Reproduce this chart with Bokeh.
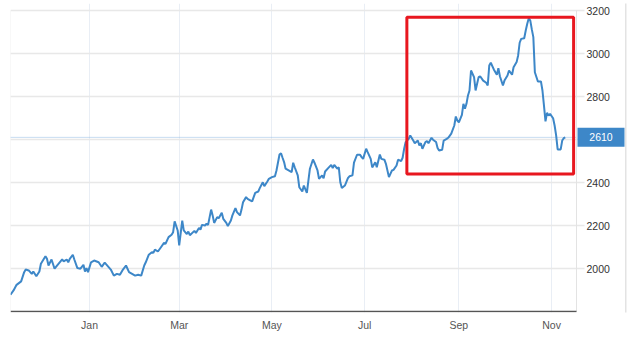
import pandas as pd
from bokeh.plotting import figure
from bokeh.models import (Range1d, BoxAnnotation, Label, MonthsTicker,
                          DatetimeTickFormatter, ColumnDataSource)
from bokeh.core.properties import value
from bokeh.embed import file_html
from bokeh.resources import INLINE

# ---- data ----
start_date = "2020-11-10"
day_offsets = [
    0, 2, 4, 7, 9, 10, 12, 14, 15, 17,
    19, 20, 23, 24, 25, 27, 29, 31, 34, 35,
    37, 38, 39, 41, 42, 44, 46, 48, 49, 50,
    51, 53, 55, 58, 60, 62, 64, 66, 68, 70,
    72, 74, 76, 78, 80, 82, 84, 86, 88, 89,
    91, 93, 94, 95, 97, 99, 101, 102, 104, 106,
    107, 108, 110, 111, 113, 114, 116, 117, 118, 121,
    122, 124, 125, 126, 128, 129, 130, 132, 133, 134,
    136, 137, 139, 140, 142, 143, 145, 146, 148, 149,
    151, 152, 153, 155, 156, 158, 159, 161, 163, 164,
    166, 167, 169, 170, 172, 174, 175, 177, 178, 179,
    180, 181, 183, 185, 186, 187, 189, 190, 192, 193,
    195, 196, 197, 199, 200, 202, 203, 205, 206, 207,
    209, 211, 212, 213, 215, 216, 217, 218, 220, 222,
    223, 225, 226, 228, 230, 231, 232, 234, 235, 237,
    238, 240, 241, 243, 244, 246, 247, 249, 251, 252,
    254, 255, 257, 258, 259, 260, 262, 263, 265, 266,
    268, 269, 270, 271, 273, 274, 275, 277, 278, 280,
    281, 282, 284, 285, 287, 288, 290, 292, 293, 294,
    295, 297, 298, 299, 300, 301, 302, 303, 305, 306,
    308, 309, 311, 313, 314, 315, 316, 318, 320, 321,
    322, 324, 325, 327, 328, 330, 331, 333, 334, 335,
    336, 338, 339, 340, 341, 342, 343, 344, 345, 347,
    349, 350, 351, 352, 353, 354, 355, 357, 358, 359,
    360, 362, 363, 364, 365,
]
prices = [
    1878, 1898, 1924, 1940, 1983, 1995, 1991, 1975, 1986, 1964,
    1986, 2022, 2057, 2045, 2014, 2042, 1999, 2017, 2042, 2033,
    2042, 2029, 2045, 2064, 2042, 2002, 1999, 2017, 1986, 2002,
    1983, 2029, 2037, 2029, 2008, 2027, 2011, 1995, 1967, 1975,
    1971, 1995, 2014, 1983, 1975, 1967, 1971, 1967, 2014, 2029,
    2064, 2076, 2073, 2088, 2079, 2099, 2119, 2115, 2146, 2157,
    2169, 2219, 2177, 2107, 2223, 2177, 2160, 2172, 2155, 2175,
    2165, 2188, 2181, 2203, 2200, 2208, 2203, 2274, 2247, 2212,
    2239, 2234, 2259, 2231, 2212, 2197, 2223, 2247, 2281, 2262,
    2247, 2274, 2308, 2332, 2324, 2316, 2312, 2352, 2358, 2374,
    2401, 2383, 2405, 2417, 2425, 2429, 2456, 2530, 2536, 2515,
    2495, 2464, 2456, 2448, 2492, 2471, 2433, 2378, 2358, 2386,
    2352, 2409, 2464, 2507, 2492, 2456, 2417, 2433, 2420, 2451,
    2467, 2482, 2467, 2482, 2464, 2471, 2401, 2374, 2386, 2420,
    2429, 2433, 2492, 2529, 2529, 2518, 2510, 2557, 2541, 2510,
    2470, 2494, 2471, 2530, 2510, 2506, 2487, 2425, 2456, 2459,
    2479, 2506, 2499, 2515, 2557, 2588, 2603, 2619, 2595, 2583,
    2595, 2572, 2583, 2557, 2588, 2592, 2583, 2608, 2599, 2588,
    2561, 2549, 2552, 2595, 2603, 2608, 2627, 2665, 2707, 2688,
    2680, 2715, 2766, 2743, 2766, 2805, 2828, 2921, 2890, 2828,
    2890, 2894, 2874, 2864, 2851, 2944, 2957, 2926, 2901, 2932,
    2894, 2851, 2874, 2898, 2921, 2901, 2936, 2960, 2991, 3050,
    3068, 3071, 3107, 3138, 3164, 3153, 3112, 3076, 2913, 2870,
    2870, 2828, 2758, 2684, 2724, 2712, 2719, 2699, 2665, 2619,
    2554, 2554, 2595, 2606, 2610,
]
last_price = 2610
y_ticks = [2000, 2200, 2400, 2600, 2800, 3000, 3200]
y_labels = ["2000", "2200", "2400", "", "2800", "3000", "3200"]  # 2600 sits under the 2610 tag
y_min, y_max = 1800, 3200
range_end_days = 372.4
# highlighted region (red box)
hl_left, hl_right = "2021-07-28 19:00", "2021-11-15 12:00"
hl_low, hl_high = 2440, 3169

start = pd.Timestamp(start_date)
dates = start + pd.to_timedelta(day_offsets, unit="D")
source = ColumnDataSource(data=dict(date=dates, price=prices))

# ---- layout (pixels) ----
FONT = "Liberation Sans"
TAG_BLUE = "#3d87c8"
W, H = 638, 357
B_LEFT, B_TOP, B_BOTTOM = 10, 3, 45
PLOT_LEFT, PLOT_RIGHT, PLOT_TOP, PLOT_BOTTOM = 10, 576, 10, 311   # data area
px_per_day = (PLOT_RIGHT - PLOT_LEFT) / range_end_days
units_per_px = (y_max - y_min) / (PLOT_BOTTOM - PLOT_TOP)

def px_date(px):
    return start + pd.Timedelta(days=(px - B_LEFT) / px_per_day)

def py_value(py):
    return y_max - (py - PLOT_TOP) * units_per_px

plot_end = px_date(PLOT_RIGHT)

p = figure(width=W, height=H, x_axis_type="datetime", y_axis_location=None,
           output_backend="svg", toolbar_location=None,
           x_range=Range1d(start, px_date(W)),
           y_range=Range1d(py_value(H - B_BOTTOM), py_value(B_TOP)),
           min_border_left=B_LEFT, min_border_right=0,
           min_border_top=B_TOP, min_border_bottom=B_BOTTOM)
p.outline_line_color = None
p.background_fill_color = "white"
p.border_fill_color = "white"
p.ygrid.visible = False

# x axis (labels only; its line is drawn below as a segment that stops at the data area)
xa = p.xaxis[0]
xa.ticker = MonthsTicker(months=[0, 2, 4, 6, 8, 10])
xa.formatter = DatetimeTickFormatter(months="%b", days="%b", years="%b", hours="%b")
xa.axis_line_color = None
xa.major_tick_line_color = None
xa.minor_tick_line_color = None
xa.major_tick_out = 0
xa.major_tick_in = 0
xa.major_label_text_font = FONT
xa.major_label_text_font_size = "10.5px"
xa.major_label_text_color = "#555555"
xa.major_label_standoff = 6

p.xgrid.grid_line_color = "#e9eef5"
p.xgrid.grid_line_width = 1

# horizontal grid lines with their short outer ticks
n = len(y_ticks)
p.segment(x0=[start] * n, x1=[px_date(PLOT_RIGHT + 8)] * n, y0=y_ticks, y1=y_ticks,
          line_color="#e8e8e8", line_width=1.5)
# right axis line and bottom axis line
p.segment(x0=[plot_end], x1=[plot_end], y0=[y_min], y1=[y_max],
          line_color="#e3e3e3", line_width=1)
p.segment(x0=[start], x1=[plot_end], y0=[y_min], y1=[y_min],
          line_color="#555555", line_width=1.5)

# right-hand tick labels
p.text(x=[px_date(PLOT_RIGHT + 10)] * n, y=y_ticks, text=y_labels,
       text_font=value(FONT), text_font_size=value("10.5px"),
       text_color="#333333", text_align="left", text_baseline="middle")

# dotted last-value line
p.segment(x0=[start], x1=[plot_end], y0=[last_price], y1=[last_price],
          line_color="#8fb8e3", line_width=1, line_dash="1 1")

p.line("date", "price", source=source, line_color="#3d87c8", line_width=2)

# frame lines at the outer edges
for l, r, t, b in [(9, 10, 10, 335), (624.5, 626, 0, 335)]:
    p.add_layout(BoxAnnotation(left=l, right=r, top=t, bottom=b,
                               left_units="canvas", right_units="canvas",
                               top_units="canvas", bottom_units="canvas",
                               fill_color="#e3e3e3", fill_alpha=1, line_color=None))

# red highlight box
p.add_layout(BoxAnnotation(left=pd.Timestamp(hl_left), right=pd.Timestamp(hl_right),
                           bottom=hl_low, top=hl_high, fill_alpha=0,
                           line_color="#e8171f", line_alpha=1, line_width=3))

# last value tag
half_h = 9.5 * units_per_px
p.add_layout(BoxAnnotation(left=px_date(PLOT_RIGHT + 1), right=px_date(PLOT_RIGHT + 48),
                           bottom=last_price - half_h, top=last_price + half_h,
                           fill_color=TAG_BLUE, fill_alpha=1, line_color=None))
p.add_layout(Label(x=px_date(PLOT_RIGHT + 24.5), y=last_price, text=str(last_price),
                   text_align="center", text_baseline="middle", text_color="white",
                   text_font=FONT, text_font_size="10.5px"))

open("out.html", "w").write(file_html(p, INLINE))
